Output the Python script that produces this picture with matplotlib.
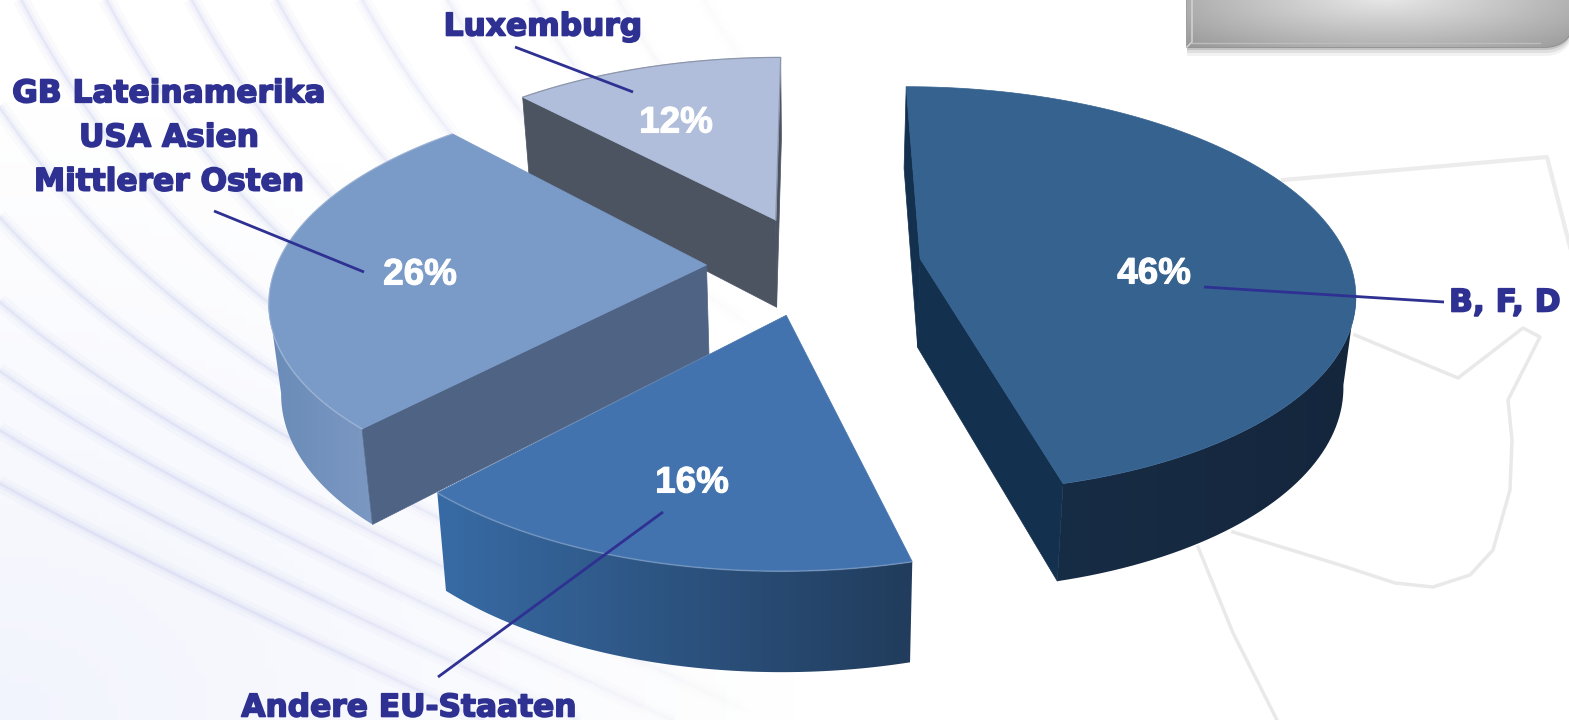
"""Exploded 3D pie of shares by region, drawn with a small perspective projection."""
import numpy as np
import matplotlib
matplotlib.use('Agg')
import matplotlib.pyplot as plt
import matplotlib.patheffects as pe
from matplotlib.collections import LineCollection
from matplotlib.colors import to_rgb, LinearSegmentedColormap
from matplotlib.patches import Polygon

# data, clockwise from 12 o'clock
shares = [46, 16, 26, 12]
pct_labels = ['46%', '16%', '26%', '12%']
region_labels = ['B, F, D', 'Andere EU-Staaten',
                 'GB Lateinamerika\nUSA Asien\nMittlerer Osten', 'Luxemburg']

# projection settings (pixels of the 1569x720 picture)
CX, CY = 814, 265
A, B = 430, 200
PERSP = 0.152
EXPLODE = 0.25
DEPTH = 89
SHRINK = 0.977

top_colors = ['#36628f', '#4373ae', '#7a9ac8', '#b0bedb']
face_colors = ['#14304f', '#2c5282', '#4f6485', '#4c5462']
wall_left = ['#172c45', '#386ba5', '#6a8bb8', '#a0aec8']
wall_right = ['#14263c', '#213c5c', '#7b98c2', '#a0aec8']
draw_order = [3, 0, 2, 1]

INK = '#2e3192'


def project(u, v):
    s = 1 / (1 + PERSP * v)
    return CX + A * u * s, CY - B * v * s, s


def drop(x, y, s):
    """Point on the underside of the pie, below a point of the top."""
    return CX + (x - CX) * SHRINK, y + DEPTH * s ** 0.6


def gradient_fill(pts, c0, c1, z):
    """Fill a polygon with a left to right colour ramp."""
    patch = Polygon(pts, fc='none', ec='none', zorder=z)
    ax.add_patch(patch)
    cmap = LinearSegmentedColormap.from_list('ramp', [c0, c1])
    x0, x1 = pts[:, 0].min() - 1, pts[:, 0].max() + 1
    y0, y1 = pts[:, 1].min() - 1, pts[:, 1].max() + 1
    im = ax.imshow(np.linspace(0, 1, 256).reshape(1, -1), extent=(x0, x1, y1, y0),
                   cmap=cmap, aspect='auto', zorder=z, interpolation='bilinear')
    im.set_clip_path(patch)


fig = plt.figure(figsize=(15.69, 7.2), dpi=100)
ax = fig.add_axes([0, 0, 1, 1])

# background: very light blue tint, stronger in the lower left
gx, gy = np.meshgrid(np.linspace(0, 1569, 160), np.linspace(0, 720, 80))
tint = np.clip(1 - np.sqrt((gx / 800) ** 2 + ((720 - gy) / 620) ** 2), 0, 1)
tint_rgba = np.zeros(gx.shape + (4,))
tint_rgba[..., :3] = to_rgb('#dfe4fb')
tint_rgba[..., 3] = tint * 0.4
ax.imshow(tint_rgba, extent=(0, 1569, 720, 0), aspect='auto', zorder=0.5)

# background: pale wave lines on the left
for k in range(17):
    x = np.linspace(-10, 900, 160)
    x0 = -520 + k * 82
    t = np.clip(x - x0, 0, None)
    y = -70 + 330 * (1 - np.exp(-t / 170)) + 0.46 * t - k * 6
    y = np.where(x < x0, np.nan, y)
    pts = np.column_stack([x, y])
    segs = np.stack([pts[:-1], pts[1:]], axis=1)
    fade = np.clip((760 - x[:-1]) / 500, 0, 1)
    for lw, al in [(12, 0.04), (6, 0.06), (2, 0.12)]:
        cols = np.tile(to_rgb('#8f98dc'), (len(segs), 1))
        cols = np.column_stack([cols, fade * al])
        ax.add_collection(LineCollection(segs, colors=cols, linewidths=lw, zorder=1))

# background: faint outline on the right
ax.plot([1283, 1547, 1572], [180, 157, 255], color='#ececec', lw=3, zorder=1)
ax.plot([1355, 1458, 1523, 1540, 1508, 1512, 1510, 1493, 1470, 1433, 1395, 1340, 1233],
        [335, 378, 328, 337, 400, 440, 490, 550, 575, 587, 583, 565, 532],
        color='#e9e9e9', lw=2.5, zorder=1)
ax.plot([1198, 1233, 1277], [547, 633, 720], color='#e9e9e9', lw=2.5, zorder=1)

# grey box in the top right corner: square on the left, rounded on the right
corner = np.linspace(0, np.pi / 2, 20)
outline = np.r_[[[1187, -2], [1187, 47]],
                np.column_stack([1545 + 26 * np.sin(corner), 47 - 19 * (1 - np.cos(corner))]),
                [[1572, -2]]]
for grow, al in [(9, 0.05), (6, 0.08), (3, 0.12)]:
    ax.add_patch(Polygon(outline + np.array([0, grow]), fc='black', ec='none', alpha=al, zorder=2))
box = Polygon(outline, fc='#aaaaaa', ec='#8c8c8c', lw=1.2, zorder=3)
ax.add_patch(box)
bx_, by_ = np.meshgrid(np.linspace(1187, 1572, 200), np.linspace(0, 47, 40))
grad = 0.91 - 0.26 * np.sqrt(((bx_ - 1385) / 230) ** 2 + ((by_ + 3) / 60) ** 2)
img = ax.imshow(np.clip(grad, 0.6, 0.93), extent=(1187, 1572, 47, 0), cmap='gray',
                vmin=0, vmax=1, aspect='auto', zorder=3.1)
img.set_clip_path(box)
ax.plot([1187, 1192, 1192], [47, 42, 0], color='#d8d8d8', lw=1, zorder=3.2)
ax.plot([1192, 1540], [43, 43], color='#bdbdbd', lw=1, zorder=3.2)

# the slices
edges = np.cumsum([0] + shares) / sum(shares) * 2 * np.pi
z = 10
for i in draw_order:
    start, end = edges[i], edges[i + 1]
    mid = (start + end) / 2
    ou, ov = EXPLODE * np.sin(mid), EXPLODE * np.cos(mid)
    th = np.linspace(start, end, 120)
    ax_, ay_, as_ = project(ou, ov)
    px, py, ps = project(ou + np.sin(th), ov + np.cos(th))
    bx, by = drop(px, py, ps)
    abx, aby = drop(ax_, ay_, as_)

    # curved wall, only the part turned towards the viewer
    front = np.r_[np.diff(px) < 0, False] | np.r_[False, np.diff(px) < 0]
    if front.any():
        wall = np.r_[np.column_stack([px[front], py[front]]),
                     np.column_stack([bx[front], by[front]])[::-1]]
        gradient_fill(wall, wall_left[i], wall_right[i], z)

    # straight cut faces: the first edge shows when it leans left, the last when it leans right
    for j in (0, -1):
        lean = px[j] - ax_
        if (j == 0 and lean < 0) or (j == -1 and lean > 0):
            face = [(ax_, ay_), (px[j], py[j]), (bx[j], by[j]), (abx, aby)]
            ax.add_patch(Polygon(face, fc=face_colors[i], ec=face_colors[i], lw=0.5, zorder=z + 1))

    # top surface
    top = np.column_stack([np.r_[ax_, px], np.r_[ay_, py]])
    ax.add_patch(Polygon(top, fc=top_colors[i], ec=top_colors[i], lw=0.5, zorder=z + 2))
    if i in (1, 2):
        ax.plot(px, py, color='white', alpha=0.2, lw=1.2, zorder=z + 3)
    if i == 3:
        ax.plot(np.r_[px, ax_], np.r_[py, ay_], color='#8d96ab', lw=0.9, zorder=z + 3)
    z += 5

# leader lines and labels sit on top of everything
leaders = [((1204, 287), (1444, 302)), ((663, 512), (438, 677)),
           ((214, 211), (364, 272)), ((515, 47), (633, 92))]
for (x0, y0), (x1, y1) in leaders:
    ax.plot([x0, x1], [y0, y1], color=INK, lw=2, zorder=50, solid_capstyle='butt')

halo = [pe.withStroke(linewidth=1.2, foreground=INK)]
label_pos = [(1505, 303), (409, 708), (169, 138), (543, 27)]
for name, (x, y) in zip(region_labels, label_pos):
    ax.text(x, y, name, ha='center', va='center', fontsize=22.5, fontweight='bold',
            family='DejaVu Sans', color=INK, linespacing=1.66, zorder=51, path_effects=halo)

pct_halo = [pe.withStroke(linewidth=0.8, foreground='white')]
pct_pos = [(1154, 274), (692, 483), (420, 275), (676, 123)]
for name, (x, y) in zip(pct_labels, pct_pos):
    ax.text(x, y, name, ha='center', va='center', fontsize=26.5, fontweight='bold',
            family='Liberation Sans', color='white', zorder=51, path_effects=pct_halo)

ax.set_xlim(0, 1569)
ax.set_ylim(720, 0)
ax.axis('off')
fig.savefig('out.png', dpi=100)
